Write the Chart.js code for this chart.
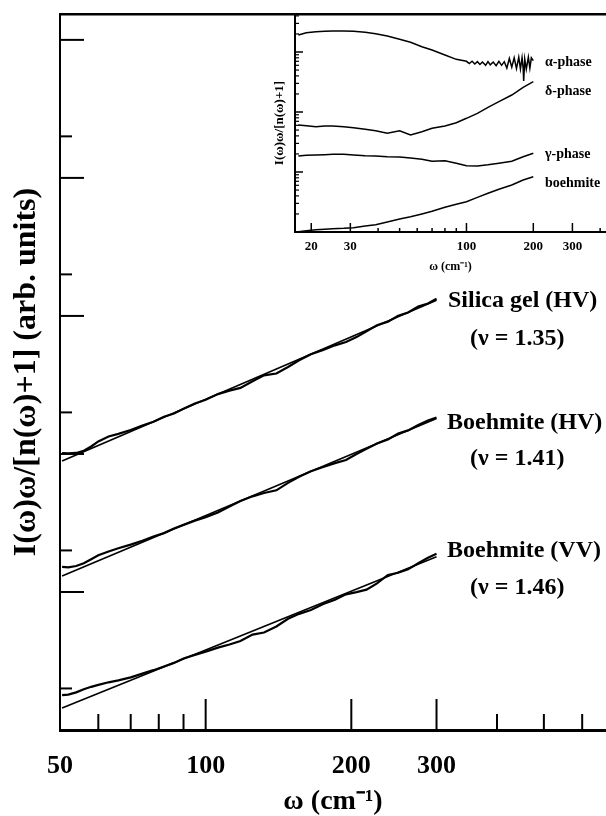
<!DOCTYPE html>
<html><head><meta charset="utf-8">
<script src="https://cdn.jsdelivr.net/npm/chart.js@4.4.1/dist/chart.umd.min.js"></script>
<style>
html,body{margin:0;padding:0;background:#fff;}
#wrap{position:relative;width:606px;height:816px;overflow:hidden;background:#fff;}
canvas{position:absolute;}
.lbl{position:absolute;font-family:'Liberation Serif','Times New Roman',serif;font-weight:bold;color:#000;white-space:nowrap;line-height:1;}
</style></head><body>
<div id="wrap">
<canvas id="main" width="606" height="816" style="left:0;top:0"></canvas>
<canvas id="inset" width="351" height="280" style="left:255px;top:0"></canvas>
<div class="lbl" style="left:448px;top:287px;font-size:24px">Silica gel (HV)</div>
<div class="lbl" style="left:470px;top:325px;font-size:24px">(ν = 1.35)</div>
<div class="lbl" style="left:447px;top:409px;font-size:24px">Boehmite (HV)</div>
<div class="lbl" style="left:470px;top:445px;font-size:24px">(ν = 1.41)</div>
<div class="lbl" style="left:447px;top:537px;font-size:24px">Boehmite (VV)</div>
<div class="lbl" style="left:470px;top:574px;font-size:24px">(ν = 1.46)</div>
<div class="lbl" style="left:545px;top:55px;font-size:14px">α-phase</div>
<div class="lbl" style="left:545px;top:84px;font-size:14px">δ-phase</div>
<div class="lbl" style="left:545px;top:147px;font-size:14px">γ-phase</div>
<div class="lbl" style="left:545px;top:176px;font-size:14px">boehmite</div>
</div>
<script>
// ---------- main plot data ----------
const freq = [50.5, 52, 54, 56, 58, 60, 63, 66, 70, 74, 78, 82, 86, 90, 95, 100, 106, 112, 118, 125, 132, 140, 148, 156, 165, 175, 185, 195, 205, 215, 226, 238, 250, 262, 275, 288, 300];
const silicaHV = [10.16, 10.10, 10.17, 10.56, 11.32, 12.32, 13.37, 13.98, 14.91, 16.07, 17.11, 18.60, 19.65, 21.22, 23.21, 24.66, 27.14, 28.75, 30.08, 33.64, 37.14, 38.27, 42.67, 47.75, 52.83, 56.75, 61.22, 64.63, 70.27, 77.37, 85.51, 90.93, 100.4, 105.9, 116.8, 123.2, 133.2];
const boehmiteHV = [1.518, 1.508, 1.542, 1.613, 1.727, 1.847, 1.967, 2.072, 2.204, 2.353, 2.522, 2.670, 2.888, 3.062, 3.289, 3.488, 3.771, 4.159, 4.568, 4.932, 5.212, 5.451, 6.170, 6.838, 7.487, 8.035, 8.577, 9.036, 9.977, 10.88, 11.91, 12.75, 14.05, 14.81, 16.18, 17.47, 18.39];
const boehmiteVV = [0.1791, 0.1805, 0.1873, 0.1972, 0.2055, 0.2122, 0.2216, 0.2289, 0.2406, 0.2561, 0.2713, 0.2888, 0.3064, 0.3295, 0.3499, 0.3699, 0.3951, 0.4165, 0.4411, 0.4907, 0.5085, 0.5622, 0.6393, 0.6945, 0.7396, 0.8172, 0.877, 0.9607, 0.9975, 1.040, 1.154, 1.328, 1.377, 1.459, 1.616, 1.769, 1.890];
const fitFreq = [50.5, 300];
const silicaFit = [8.89, 129.9];
const boehmiteHVFit = [1.306, 18.09];
const boehmiteVVFit = [0.1442, 1.798];
const xTickLabels = [50, 100, 200, 300];
const xMajorTicks = [100, 200, 300];
const xMinorTicks = [60, 70, 80, 90, 400, 500, 600];
const yMajorTicks = [1, 10, 100, 1000, 10000];
const yMinorTicks = [0.2, 2, 20, 200, 2000];

// ---------- inset data ----------
const alphaFreq = [17.5, 19, 21, 23, 25, 28, 31, 35, 39, 44, 50, 56, 63, 70, 80, 90, 100, 103, 106, 109, 112, 115, 118, 122, 125, 128, 132, 136, 140, 144, 148, 152, 156, 160, 164, 168, 172, 175, 178, 180, 181, 183, 186, 190, 193, 196, 200];
const alphaPhase = [1919, 2099, 2178, 2213, 2239, 2239, 2213, 2128, 2018, 1849, 1629, 1452, 1225, 1079, 891, 755, 700, 640, 700, 630, 690, 620, 680, 600, 690, 610, 680, 590, 700, 600, 690, 540, 780, 560, 800, 530, 820, 520, 800, 540, 330, 760, 520, 820, 540, 800, 720];
const insetFreq = [17.5, 19, 21, 23, 25, 28, 31, 35, 39, 44, 50, 56, 63, 70, 80, 90, 100, 112, 125, 140, 160, 180, 200];
const deltaPhase = [60.7, 59.2, 56.9, 58.5, 58.5, 56.9, 54.7, 51.5, 48.8, 44.2, 48.8, 41.4, 47.0, 53.5, 58.5, 66.4, 78.5, 95.1, 119.7, 148.6, 191.9, 258.2, 319.9];
const gammaPhase = [18.5, 19.0, 19.2, 19.4, 19.7, 19.7, 19.2, 18.7, 18.5, 18.0, 17.8, 17.1, 16.3, 15.1, 15.4, 14.0, 12.7, 12.6, 13.2, 14.0, 15.1, 18.0, 20.5];
const boehmiteInset = [1.01, 1.05, 1.09, 1.11, 1.13, 1.15, 1.18, 1.26, 1.32, 1.47, 1.65, 1.80, 2.00, 2.21, 2.58, 2.90, 3.20, 3.78, 4.42, 5.15, 6.07, 7.36, 8.36];
const insetTickLabels = [20, 30, 100, 200, 300];
const insetXMajor = [20, 30, 100, 200, 300];
const insetXMinor = [40, 50, 60, 70, 80, 90, 400];
const insetYMajor = [10, 100, 1000];
const insetYMinor = [2, 3, 4, 5, 6, 7, 8, 9, 20, 30, 40, 50, 60, 70, 80, 90, 200, 300, 400, 500, 600, 700, 800, 900, 2000, 3000, 4000];

const FONT = "'Liberation Serif','Times New Roman',serif";
const pts = (xs, ys) => xs.map((x, i) => ({x, y: ys[i]}));

const innerTicks = {
  id: 'innerTicks',
  afterDatasetsDraw(chart, args, opts) {
    const ctx = chart.ctx, xs = chart.scales.x, ys = chart.scales.y, a = chart.chartArea;
    ctx.save();
    ctx.strokeStyle = '#000';
    (opts.x || []).forEach(g => {
      ctx.lineWidth = g.width;
      g.values.forEach(v => {
        const p = xs.getPixelForValue(v);
        if (p < a.left || p > a.right) return;
        ctx.beginPath(); ctx.moveTo(p, a.bottom); ctx.lineTo(p, a.bottom - g.len); ctx.stroke();
      });
    });
    (opts.y || []).forEach(g => {
      ctx.lineWidth = g.width;
      g.values.forEach(v => {
        const p = ys.getPixelForValue(v);
        if (p < a.top || p > a.bottom) return;
        ctx.beginPath(); ctx.moveTo(a.left, p); ctx.lineTo(a.left + g.len, p); ctx.stroke();
      });
    });
    ctx.restore();
  }
};

function line(data, w) {
  return {data, borderColor: '#000', borderWidth: w, pointRadius: 0, tension: 0, fill: false};
}

new Chart(document.getElementById('main'), {
  type: 'line',
  data: {
    datasets: [
      line(pts(freq, silicaHV), 2.2), line(pts(fitFreq, silicaFit), 1.6),
      line(pts(freq, boehmiteHV), 2.2), line(pts(fitFreq, boehmiteHVFit), 1.6),
      line(pts(freq, boehmiteVV), 2.2), line(pts(fitFreq, boehmiteVVFit), 1.6)
    ]
  },
  plugins: [innerTicks],
  options: {
    responsive: false, animation: false, devicePixelRatio: 1,
    layout: {padding: 0},
    plugins: {
      legend: {display: false}, tooltip: {enabled: false},
      innerTicks: {
        x: [{values: xMajorTicks, len: 31, width: 2}, {values: xMinorTicks, len: 16, width: 2}],
        y: [{values: yMajorTicks, len: 24, width: 2}, {values: yMinorTicks, len: 12, width: 2}]
      }
    },
    scales: {
      x: {
        type: 'logarithmic', position: 'bottom', min: 50, max: 672,
        afterBuildTicks: s => { s.ticks = xTickLabels.map(v => ({value: v})); },
        afterFit: s => { s.height = 86; },
        grid: {display: false, drawTicks: false},
        border: {display: true, color: '#000', width: 3},
        ticks: {autoSkip: false, maxRotation: 0, padding: 21, color: '#000',
          font: {family: FONT, size: 26, weight: 'bold', lineHeight: 1.2},
          callback: v => String(v)},
        title: {display: true, text: 'ω (cm⁻¹)', color: '#000', padding: {top: 0, bottom: 0},
          font: {family: FONT, size: 28, weight: 'bold', lineHeight: 1}}
      },
      x2: {
        type: 'logarithmic', position: 'top', min: 50, max: 672,
        afterFit: s => { s.height = 14; },
        grid: {display: false, drawTicks: false},
        border: {display: true, color: '#000', width: 2.5},
        ticks: {display: false}
      },
      y: {
        type: 'logarithmic', position: 'left', min: 0.1, max: 15400,
        afterFit: s => { s.width = 60; },
        grid: {display: false, drawTicks: false},
        border: {display: true, color: '#000', width: 2},
        ticks: {display: false},
        title: {display: true, text: 'I(ω)ω/[n(ω)+1] (arb. units)', color: '#000', padding: {top: 8, bottom: 0},
          font: {family: FONT, size: 32, weight: 'bold', lineHeight: 1.2}}
      }
    }
  }
});

new Chart(document.getElementById('inset'), {
  type: 'line',
  data: {
    datasets: [
      line(pts(alphaFreq, alphaPhase), 1.5),
      line(pts(insetFreq, deltaPhase), 1.5),
      line(pts(insetFreq, gammaPhase), 1.5),
      line(pts(insetFreq, boehmiteInset), 1.5)
    ]
  },
  plugins: [innerTicks],
  options: {
    responsive: false, animation: false, devicePixelRatio: 1,
    layout: {padding: {top: 14, left: 0, right: 0, bottom: 0}},
    plugins: {
      legend: {display: false}, tooltip: {enabled: false},
      innerTicks: {
        x: [{values: insetXMajor, len: 9, width: 1.5}, {values: insetXMinor, len: 4, width: 1.5}],
        y: [{values: insetYMajor, len: 8, width: 1.5}, {values: insetYMinor, len: 4, width: 1.2}]
      }
    },
    scales: {
      x: {
        type: 'logarithmic', position: 'bottom', min: 16.9, max: 425,
        afterBuildTicks: s => { s.ticks = insetTickLabels.map(v => ({value: v})); },
        afterFit: s => { s.height = 48; },
        grid: {display: false, drawTicks: false},
        border: {display: true, color: '#000', width: 2},
        ticks: {autoSkip: false, maxRotation: 0, padding: 7, color: '#000',
          font: {family: FONT, size: 13, weight: 'bold', lineHeight: 1.2},
          callback: v => String(v)},
        title: {display: true, text: 'ω (cm⁻¹)', color: '#000', padding: {top: 0, bottom: 6},
          font: {family: FONT, size: 12, weight: 'bold', lineHeight: 1.2}}
      },
      y: {
        type: 'logarithmic', position: 'left', min: 1, max: 4300,
        afterFit: s => { s.width = 40; },
        grid: {display: false, drawTicks: false},
        border: {display: true, color: '#000', width: 2},
        ticks: {display: false},
        title: {display: true, text: 'I(ω)ω/[n(ω)+1]', color: '#000', padding: {top: 17, bottom: 0},
          font: {family: FONT, size: 13, weight: 'bold', lineHeight: 1.2}}
      }
    }
  }
});
</script>
</body></html>
